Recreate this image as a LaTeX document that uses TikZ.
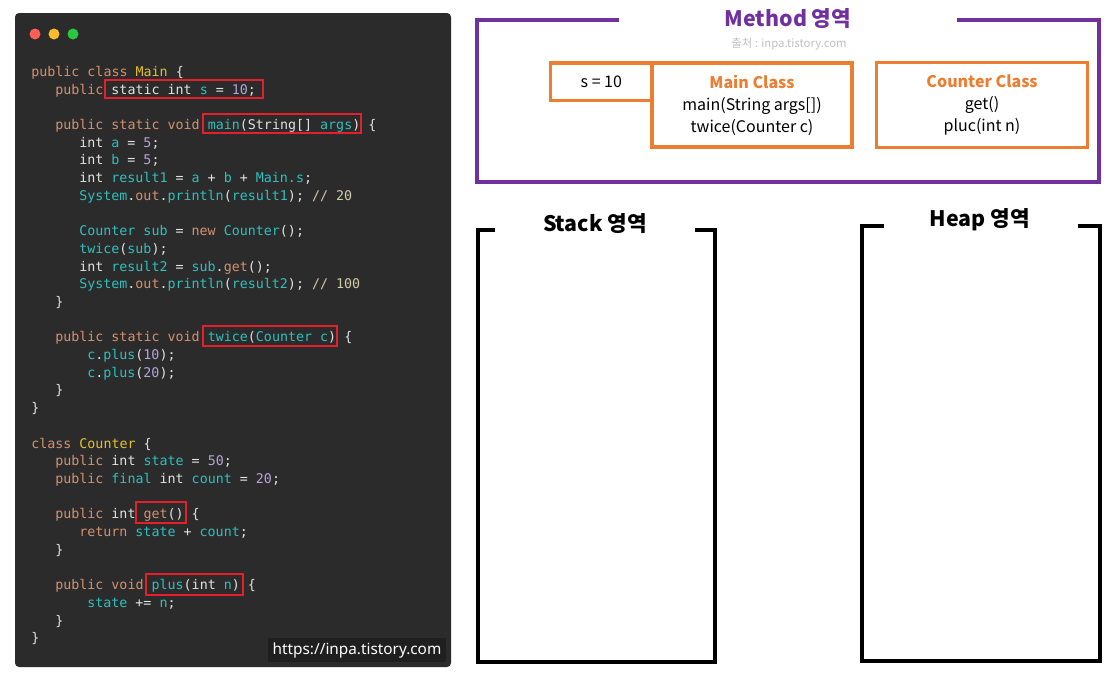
\documentclass[tikz,border=0pt]{standalone}
\usepackage{fontspec}
\setmainfont{Noto Sans CJK KR}
\newfontfamily\codefont{DejaVu Sans Mono}
\newfontfamily\wmfont{Noto Sans}
\usetikzlibrary{positioning}
\definecolor{codebg}{HTML}{2B2B2B}
\definecolor{plain}{HTML}{E2E2E2}
\definecolor{kwc}{HTML}{D4916F}
\definecolor{idc}{HTML}{2FC0C0}
\definecolor{nmc}{HTML}{B5A3DA}
\definecolor{clc}{HTML}{E3C12A}
\definecolor{cmc}{HTML}{D2CCA6}
\definecolor{codered}{HTML}{E3202B}
\definecolor{dotred}{HTML}{FF5F57}
\definecolor{dotyellow}{HTML}{FEBC2E}
\definecolor{dotgreen}{HTML}{28C840}
\definecolor{MPurple}{HTML}{7030A0}
\definecolor{COrange}{HTML}{ED7D31}
\newcommand{\kwd}[1]{\textcolor{kwc}{#1}}
\newcommand{\idn}[1]{\textcolor{idc}{#1}}
\newcommand{\nbr}[1]{\textcolor{nmc}{#1}}
\newcommand{\cls}[1]{\textcolor{clc}{#1}}
\newcommand{\cmt}[1]{\textcolor{cmc}{#1}}
\tikzset{
    codeln/.style={anchor=base west, inner sep=0, text=plain, font=\codefont\fontsize{10}{12}\selectfont},
    redbox/.style={draw=codered, line width=1.5pt},
    objbox/.style={draw=COrange, line width=2.5pt, outer sep=0, align=center, font=\fontsize{12}{16.5}\selectfont},
    arealine/.style={line width=2.6pt, line cap=rect},
    areatitle/.style={font=\bfseries\fontsize{16}{19}\selectfont}
}
\begin{document}
\begin{tikzpicture}[x=0.75pt, y=-0.75pt]
\useasboundingbox (0,0) rectangle (1112,672);

% code panel
\fill[codebg, rounded corners=3pt] (15,13) rectangle (451,667);
\fill[dotred]    (35,34) circle (5.5);
\fill[dotyellow] (54,34) circle (5.5);
\fill[dotgreen]  (73,34) circle (5.5);

\node[codeln] (l1)  at (31,76)  {\kwd{public class} \cls{Main} \{};
\node[codeln] (l2)  at (55,94)  {\kwd{public} static int \idn{s} = \nbr{10};};
\node[codeln] (l3)  at (55,129) {\kwd{public static void} \idn{main}(String[] \idn{args}) \{};
\node[codeln] (l4)  at (79,147) {int \idn{a} = \nbr{5};};
\node[codeln] (l5)  at (79,164) {int \idn{b} = \nbr{5};};
\node[codeln] (l6)  at (79,182) {int \idn{result1} = \idn{a} + \idn{b} + \idn{Main.s};};
\node[codeln] (l7)  at (79,200) {\idn{System}.\kwd{out}.\idn{println}(\idn{result1}); \cmt{// 20}};
\node[codeln] (l8)  at (79,235) {\idn{Counter sub} = \kwd{new} \idn{Counter}();};
\node[codeln] (l9)  at (79,253) {\idn{twice}(\idn{sub});};
\node[codeln] (l10) at (79,271) {int \idn{result2} = \idn{sub}.\kwd{get}();};
\node[codeln] (l11) at (79,288) {\idn{System}.\kwd{out}.\idn{println}(\idn{result2}); \cmt{// 100}};
\node[codeln] (l12) at (55,306) {\}};
\node[codeln] (l13) at (55,341) {\kwd{public static void} \idn{twice}(\idn{Counter c}) \{};
\node[codeln] (l14) at (87,359) {\idn{c}.\idn{plus}(\nbr{10});};
\node[codeln] (l15) at (87,377) {\idn{c}.\idn{plus}(\nbr{20});};
\node[codeln] (l16) at (55,394) {\}};
\node[codeln] (l17) at (31,412) {\}};
\node[codeln] (l18) at (31,448) {\kwd{class} \cls{Counter} \{};
\node[codeln] (l19) at (55,465) {\kwd{public} int \idn{state} = \nbr{50};};
\node[codeln] (l20) at (55,483) {\kwd{public} \idn{final} int \idn{count} = \nbr{20};};
\node[codeln] (l21) at (55,518) {\kwd{public} int \kwd{get}() \{};
\node[codeln] (l22) at (79,536) {\kwd{return} \idn{state} + \idn{count};};
\node[codeln] (l23) at (55,554) {\}};
\node[codeln] (l24) at (55,589) {\kwd{public void} \idn{plus}(int \idn{n}) \{};
\node[codeln] (l25) at (87,607) {\idn{state} += \idn{n};};
\node[codeln] (l26) at (55,625) {\}};
\node[codeln] (l27) at (31,642) {\}};

\draw[redbox] (105,80) rectangle (263,98);
\draw[redbox] (203,114) rectangle (361,133);
\draw[redbox] (203,326) rectangle (337,346);
\draw[redbox] (136,502) rectangle (186,523);
\draw[redbox] (146,574) rectangle (243,595);

\node[fill=black!88, text=white, font=\wmfont\fontsize{11.5}{13}\selectfont, minimum width=133pt, minimum height=18pt, inner sep=0] (wmark) at (357,650) {https://inpa.tistory.com};

% method area
\draw[MPurple, arealine] (617,20) -- (477,20) -- (477,182) -- (1099,182) -- (1099,20) -- (959,20);
\node[areatitle, text=MPurple] (method-title) at (788,19) {Method 영역};
\node[text=black!25, font=\fontsize{8.5}{10}\selectfont] (method-src) at (789,44) {출처 : inpa.tistory.com};

\node[objbox, minimum width=150pt, minimum height=63pt] (main-cls) at (752,105)
    {\textcolor{COrange}{\bfseries Main Class}\\main(String args[])\\twice(Counter c)};
\node[objbox, minimum width=76pt, minimum height=28pt, anchor=north east] (s-val) at (main-cls.north west) {s = 10};
\node[objbox, minimum width=158pt, minimum height=64pt] (counter-cls) at (982,105)
    {\textcolor{COrange}{\bfseries Counter Class}\\get()\\pluc(int n)};

% stack area
\draw[arealine] (493,230) -- (478,230) -- (478,662) -- (715,662) -- (715,230) -- (697,230);
\node[areatitle] (stack-title) at (595,224) {Stack 영역};

% heap area
\draw[arealine] (882,226) -- (862,226) -- (862,661) -- (1100,661) -- (1100,226) -- (1080,226);
\node[areatitle] (heap-title) at (980,220) {Heap 영역};

\end{tikzpicture}
\end{document}
